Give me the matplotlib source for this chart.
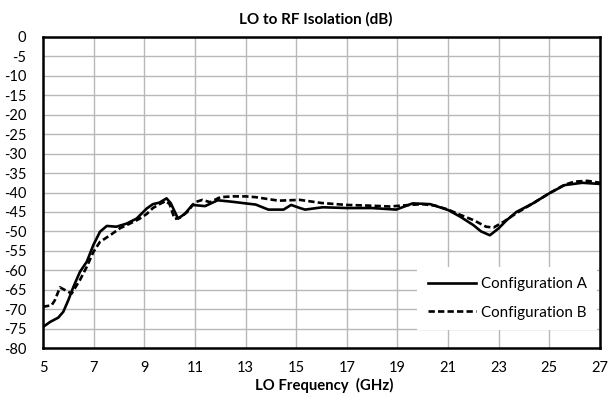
import matplotlib
matplotlib.use("Agg")
import matplotlib.pyplot as plt

plt.rcParams['font.family'] = ['Lato', 'DejaVu Sans']
plt.rcParams['axes.unicode_minus'] = False

title = "LO to RF Isolation (dB)"
xlabel = "LO Frequency  (GHz)"
xticks = [5, 7, 9, 11, 13, 15, 17, 19, 21, 23, 25, 27]
yticks = list(range(-80, 1, 5))

freq_a = [5.0, 5.28, 5.6, 5.8, 6.0, 6.2, 6.46, 6.73, 6.99, 7.25, 7.52, 7.9, 8.3, 8.7,
          9.1, 9.34, 9.6, 9.88, 10.05, 10.33, 10.6, 10.9, 11.4, 11.9, 12.5, 13.0,
          13.4, 13.9, 14.5, 14.8, 15.15, 15.35, 16.05, 17.0, 18.0, 18.95, 19.6,
          20.3, 21.0, 21.5, 22.0, 22.3, 22.65, 23.0, 23.3, 23.7, 24.35, 25.0,
          25.6, 26.3, 27.0]
iso_a = [-74.6, -73.3, -72.2, -70.7, -67.7, -64.3, -60.4, -57.8, -53.5, -50.1,
         -48.6, -48.8, -48.0, -46.7, -44.1, -43.0, -42.6, -41.5, -42.8, -46.7,
         -45.5, -43.2, -43.5, -42.0, -42.4, -42.8, -43.1, -44.4, -44.4, -43.2,
         -44.0, -44.4, -43.8, -44.0, -44.0, -44.4, -42.8, -43.0, -44.5, -46.3,
         -48.4, -50.0, -51.0, -49.2, -47.2, -45.0, -42.8, -40.2, -38.1, -37.5,
         -37.8]

freq_b = [5.0, 5.34, 5.47, 5.67, 5.87, 6.13, 6.46, 6.73, 6.99, 7.25, 7.65, 8.04,
          8.43, 8.8, 9.1, 9.34, 9.6, 9.85, 10.0, 10.2, 10.4, 10.7, 11.0, 11.3,
          11.6, 12.0, 12.5, 13.0, 13.4, 14.3, 15.15, 16.0, 17.0, 18.0, 18.7,
          19.5, 20.0, 20.5, 21.0, 21.5, 22.0, 22.5, 22.8, 23.2, 23.7, 24.35,
          25.0, 25.6, 26.0, 26.5, 27.0]
iso_b = [-69.4, -69.0, -67.7, -64.4, -65.1, -66.0, -62.5, -59.1, -55.3, -52.7,
         -51.0, -49.2, -48.0, -46.8, -45.5, -44.0, -43.0, -42.2, -43.0, -46.8,
         -46.5, -45.0, -42.5, -41.9, -42.5, -41.2, -41.0, -41.0, -41.2, -42.1,
         -41.9, -42.7, -43.2, -43.4, -43.6, -43.2, -43.0, -43.4, -44.4, -45.8,
         -47.1, -48.8, -49.0, -47.5, -45.3, -42.8, -40.2, -38.0, -37.2, -37.0,
         -37.5]

label_a = "Configuration A"
label_b = "Configuration B"

fig = plt.figure(figsize=(6.11, 4.04), dpi=100)
renderer = fig.canvas.get_renderer()


def fit_size(text, target_px, weight='normal', base=10.0):
    t = fig.text(0, 0, text, fontsize=base, fontweight=weight)
    w = t.get_window_extent(renderer=renderer).width
    t.remove()
    return base * target_px / w


tick_fs = fit_size("13", 17.0)
title_fs = fit_size(title, 153, 'bold')
xlab_fs = fit_size(xlabel, 138, 'bold')
leg_fs = fit_size(label_a, 106)

ax = fig.add_axes([43/611, 1-348/404, 557/611, 311/404])

ax.plot(freq_a, iso_a, color='black', lw=1.9, ls='-', label=label_a, zorder=3)
ax.plot(freq_b, iso_b, color='black', lw=1.9, ls=(0, (2.4, 1.2)), label=label_b, zorder=3)

ax.set_xlim(5, 27)
ax.set_ylim(-80, 0)
ax.set_xticks(xticks)
ax.set_yticks(yticks)
ax.grid(True, color='#b8b8b8', lw=1.0, zorder=0)
ax.set_axisbelow(True)
ax.tick_params(axis='y', length=0, labelsize=tick_fs, pad=12)
ax.tick_params(axis='x', length=0, labelsize=tick_fs, pad=9.5)
for s in ax.spines.values():
    s.set_color('black')
    s.set_linewidth(1.8)

fig.text(316/611, 1 - 19/404, title, ha='center', va='center',
         fontsize=title_fs, fontweight='bold')
fig.text(324/611, 1 - 385/404, xlabel, ha='center', va='center',
         fontsize=xlab_fs, fontweight='bold')

leg = ax.legend(loc='upper right', bbox_to_anchor=(0.995, 0.262), borderaxespad=0,
                frameon=True, fancybox=False, edgecolor='none', facecolor='white',
                framealpha=1, fontsize=leg_fs, handlelength=3.2, labelspacing=0.95,
                handletextpad=0.3, borderpad=0.7)

fig.savefig("out.png", dpi=100)
